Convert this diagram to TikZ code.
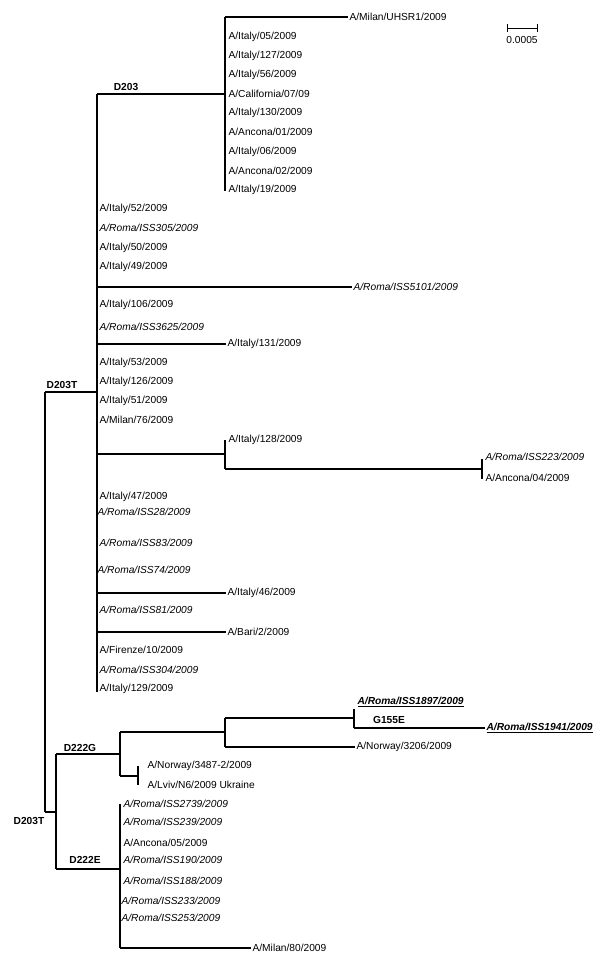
\documentclass[tikz,border=0pt]{standalone}
\usepackage{fontspec}
\setmainfont{Liberation Sans}
\usetikzlibrary{calc}

\tikzset{
	leaf/.style={anchor=west, inner sep=1pt, font=\fontsize{10.2}{12}\selectfont},
	roma/.style={leaf, font=\fontsize{10.2}{12}\selectfont\itshape},
	mut/.style={inner sep=0pt, font=\fontsize{10.2}{12}\selectfont\bfseries},
}

\begin{document}
\begin{tikzpicture}[x=1pt, y=-1pt, line width=1.2pt]

	\useasboundingbox (0,0) rectangle (600,964);

	% backbone
	\coordinate (R1) at (45,392);
	\coordinate (R2) at (45,812);
	\coordinate (P) at (97,392);
	\coordinate (Ptop) at (97,94);
	\coordinate (Pbot) at (97,692);

	\draw (R1) -- (R2);
	\draw (R1) -- (P);
	\draw (Ptop) -- (Pbot);

	% D203 clade
	\coordinate (C) at (225,94);
	\coordinate (Ctop) at (225,17);
	\coordinate (Cstub) at (225,30);
	\coordinate (Cbot) at (225,191);

	\draw (Ptop) -- (C);
	\draw (Ctop) -- (Cbot);
	\draw[line width=2.2pt] (Ctop) -- (Cstub);

	\node[leaf] (milanUHSR1) at (348,17) {A/Milan/UHSR1/2009};
	\draw (Ctop) -- (milanUHSR1);

	\node[leaf] (it05) at (227,37) {A/Italy/05/2009};
	\node[leaf] (it127) at (227,56) {A/Italy/127/2009};
	\node[leaf] (it56) at (227,75) {A/Italy/56/2009};
	\node[leaf] (calif) at (227,94) {A/California/07/09};
	\node[leaf] (it130) at (227,113) {A/Italy/130/2009};
	\node[leaf] (anc01) at (227,132) {A/Ancona/01/2009};
	\node[leaf] (it06) at (227,152) {A/Italy/06/2009};
	\node[leaf] (anc02) at (227,171) {A/Ancona/02/2009};
	\node[leaf] (it19) at (227,190) {A/Italy/19/2009};

	% polytomy
	\node[leaf] (it52) at (98,209) {A/Italy/52/2009};
	\node[roma] (iss305) at (98,228) {A/Roma/ISS305/2009};
	\node[leaf] (it50) at (98,248) {A/Italy/50/2009};
	\node[leaf] (it49) at (98,267) {A/Italy/49/2009};

	\coordinate (b5101) at (97,287);
	\node[roma] (iss5101) at (352,287) {A/Roma/ISS5101/2009};
	\draw (b5101) -- (iss5101);

	\node[leaf] (it106) at (98,305) {A/Italy/106/2009};
	\node[roma] (iss3625) at (98,327) {A/Roma/ISS3625/2009};

	\coordinate (b131) at (97,344);
	\node[leaf] (it131) at (226,344) {A/Italy/131/2009};
	\draw (b131) -- (it131);

	\node[leaf] (it53) at (98,363) {A/Italy/53/2009};
	\node[leaf] (it126) at (98,382) {A/Italy/126/2009};
	\node[leaf] (it51) at (98,401) {A/Italy/51/2009};
	\node[leaf] (milan76) at (98,420) {A/Milan/76/2009};

	% A/Italy/128 clade
	\coordinate (b128) at (97,454);
	\coordinate (K) at (225,454);
	\coordinate (Ktop) at (225,440);
	\coordinate (Kbot) at (225,469);
	\coordinate (L) at (482,469);
	\coordinate (Ltop) at (482,459);
	\coordinate (Lbot) at (482,479);

	\draw (b128) -- (K);
	\draw (Ktop) -- (Kbot);
	\draw (Kbot) -- (L);
	\draw (Ltop) -- (Lbot);

	\node[leaf] (it128) at (227,440) {A/Italy/128/2009};
	\node[roma] (iss223) at (484,457) {A/Roma/ISS223/2009};
	\node[leaf] (anc04) at (484,478) {A/Ancona/04/2009};

	\node[leaf] (it47) at (98,497) {A/Italy/47/2009};
	\node[roma] (iss28) at (96,512) {A/Roma/ISS28/2009};
	\node[roma] (iss83) at (98,543) {A/Roma/ISS83/2009};
	\node[roma] (iss74) at (96,570) {A/Roma/ISS74/2009};

	\coordinate (b46) at (97,593);
	\node[leaf] (it46) at (226,593) {A/Italy/46/2009};
	\draw (b46) -- (it46);

	\node[roma] (iss81) at (98,610) {A/Roma/ISS81/2009};

	\coordinate (bBari) at (97,632);
	\node[leaf] (bari2) at (226,632) {A/Bari/2/2009};
	\draw (bBari) -- (bari2);

	\node[leaf] (fir10) at (98,650) {A/Firenze/10/2009};
	\node[roma] (iss304) at (98,670) {A/Roma/ISS304/2009};
	\node[leaf] (it129) at (98,689) {A/Italy/129/2009};

	% lower part
	\coordinate (G) at (56,812);
	\coordinate (Gtop) at (56,754);
	\coordinate (Gbot) at (56,869);
	\coordinate (H) at (120,754);
	\coordinate (Htop) at (120,732);
	\coordinate (Hbot) at (120,776);
	\coordinate (J) at (225,732);
	\coordinate (Jtop) at (225,718);
	\coordinate (Jbot) at (225,747);
	\coordinate (M) at (354,718);
	\coordinate (Mtop) at (354,709);
	\coordinate (Mbot) at (354,728);
	\coordinate (N) at (138,776);
	\coordinate (Ntop) at (138,766);
	\coordinate (Nbot) at (138,785);
	\coordinate (E) at (120,869);
	\coordinate (Etop) at (120,804);
	\coordinate (Ebot) at (120,948);

	\draw (R2) -- (G);
	\draw (Gtop) -- (Gbot);
	\draw (Gtop) -- (H);
	\draw (Htop) -- (Hbot);
	\draw (Htop) -- (J);
	\draw (Jtop) -- (Jbot);
	\draw (Jtop) -- (M);
	\draw (Mtop) -- (Mbot);
	\draw (Hbot) -- (N);
	\draw (Ntop) -- (Nbot);
	\draw (Gbot) -- (E);
	\draw (Etop) -- (Ebot);

	\node[roma, font=\fontsize{10.2}{12}\selectfont\bfseries\itshape] (iss1897) at (356,702) {\underline{A/Roma/ISS1897/2009}};
	\node[roma, font=\fontsize{10.2}{12}\selectfont\bfseries\itshape] (iss1941) at (485,728) {\underline{A/Roma/ISS1941/2009}};
	\node[leaf] (nor3206) at (355,747) {A/Norway/3206/2009};
	\draw (Mbot) -- (iss1941);
	\draw (Jbot) -- (nor3206);

	\node[leaf] (nor3487) at (146,766) {A/Norway/3487-2/2009};
	\node[leaf] (lviv) at (146,785) {A/Lviv/N6/2009 Ukraine};

	\node[roma] (iss2739) at (122,804) {A/Roma/ISS2739/2009};
	\node[roma] (iss239) at (122,822) {A/Roma/ISS239/2009};
	\node[leaf] (anc05) at (122,843) {A/Ancona/05/2009};
	\node[roma] (iss190) at (122,860) {A/Roma/ISS190/2009};
	\node[roma] (iss188) at (122,881) {A/Roma/ISS188/2009};
	\node[roma] (iss233) at (120,901) {A/Roma/ISS233/2009};
	\node[roma] (iss253) at (120,918) {A/Roma/ISS253/2009};
	\node[leaf] (milan80) at (251,948) {A/Milan/80/2009};
	\draw (Ebot) -- (milan80);

	% mutations
	\node[mut] (mD203) at (126,87) {D203};
	\node[mut] (mD203Ta) at (62,385) {D203T};
	\node[mut] (mD203Tb) at (29,821) {D203T};
	\node[mut] (mD222G) at (80,748) {D222G};
	\node[mut] (mD222E) at (85,860) {D222E};
	\node[mut] (mG155E) at (389,720) {G155E};

	% scale bar
	\coordinate (S1) at (507,28);
	\coordinate (S2) at (537,28);
	\draw[line width=1pt] (S1) -- (S2);
	\draw[line width=1pt] ($(S1)+(0,-4)$) -- ($(S1)+(0,4)$);
	\draw[line width=1pt] ($(S2)+(0,-4)$) -- ($(S2)+(0,4)$);
	\node[inner sep=0pt, font=\fontsize{10.2}{12}\selectfont] (scl) at (522,40) {0.0005};

\end{tikzpicture}
\end{document}
